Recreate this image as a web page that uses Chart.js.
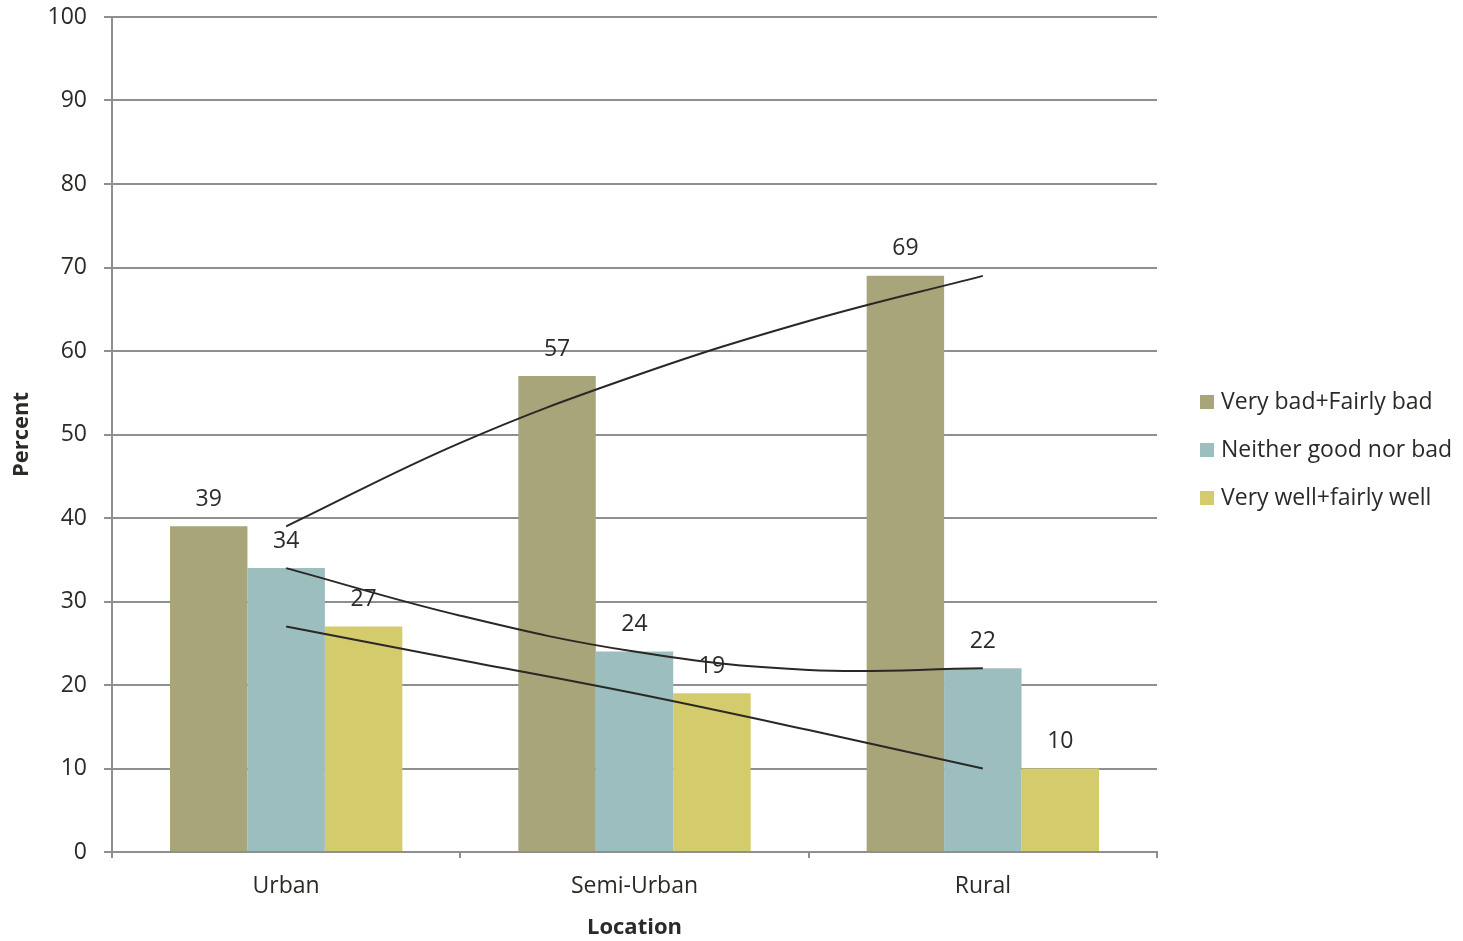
<!DOCTYPE html>
<html>
<head>
<meta charset="utf-8">
<script src="https://cdn.jsdelivr.net/npm/chart.js@4.4.0/dist/chart.umd.min.js"></script>
<style>
  html, body { margin: 0; padding: 0; background: #fff; }
  #wrap { width: 1463px; height: 941px; }
</style>
</head>
<body>
<div id="wrap"><canvas id="chart" width="1463" height="941"></canvas></div>
<script>
// locations and survey shares (%)
const locations = ['Urban', 'Semi-Urban', 'Rural'];
const seriesNames = ['Very bad+Fairly bad', 'Neither good nor bad', 'Very well+fairly well'];
const badValues = [39, 57, 69];
const neitherValues = [34, 24, 22];
const wellValues = [27, 19, 10];
// polynomial trend lines, read at half-category steps (0 = Urban, 2 = Rural)
const trendX = [0, 0.5, 1, 1.5, 2];
const trendBad = [39, 49, 57, 63.6, 69];
const trendNeither = [34, 28.3, 24, 21.8, 22];
const trendWell = [27, 23, 19, 14.6, 10];
const yTicks = [0, 10, 20, 30, 40, 50, 60, 70, 80, 90, 100];

const colors = ['#A8A57B', '#9DBEBE', '#D3CB6C'];
const textColor = '#2b2a26';
const gridColor = '#8f8f8f';
const fontFamily = "'Open Sans', sans-serif";
const fontSize = 23;
const titleSize = 22;

function barSet(label, data, color) {
    return {
        type: 'bar', label, data,
        backgroundColor: color,
        borderWidth: 0,
        categoryPercentage: 0.667,
        barPercentage: 1,
        order: 2
    };
}

// trend points sit between categories, so they go in already parsed
function trendSet(values) {
    return {
        type: 'line', label: '',
        data: trendX.map((x, i) => ({ x, y: values[i] })),
        parsing: false,
        borderColor: '#2a2824',
        borderWidth: 2,
        pointRadius: 0,
        tension: 0.4,
        fill: false,
        order: 1
    };
}

// value labels above the bars, drawn before the trend lines go on top
const barLabels = {
    id: 'barLabels',
    afterDatasetDraw(chart, args) {
        const ds = chart.data.datasets[args.index];
        if (ds.type !== 'bar') return;
        const ctx = chart.ctx;
        ctx.save();
        ctx.font = `${fontSize}px ${fontFamily}`;
        ctx.fillStyle = textColor;
        ctx.textAlign = 'center';
        ctx.textBaseline = 'middle';
        args.meta.data.forEach((bar, i) => {
            ctx.fillText(String(ds.data[i]), bar.x, bar.y - 27);
        });
        ctx.restore();
    }
};

// legend on the right
const sideLegend = {
    id: 'sideLegend',
    afterDraw(chart) {
        const ctx = chart.ctx;
        ctx.save();
        ctx.font = `${fontSize}px ${fontFamily}`;
        ctx.textBaseline = 'middle';
        ctx.textAlign = 'left';
        seriesNames.forEach((name, i) => {
            const y = 402 + i * 48;
            ctx.fillStyle = colors[i];
            ctx.fillRect(1200, y - 7, 14, 14);
            ctx.fillStyle = textColor;
            ctx.fillText(name, 1221, y);
        });
        ctx.restore();
    }
};

new Chart(document.getElementById('chart'), {
    data: {
        labels: locations,
        datasets: [
            barSet(seriesNames[0], badValues, colors[0]),
            barSet(seriesNames[1], neitherValues, colors[1]),
            barSet(seriesNames[2], wellValues, colors[2]),
            trendSet(trendBad),
            trendSet(trendNeither),
            trendSet(trendWell)
        ]
    },
    options: {
        responsive: false,
        animation: false,
        layout: { padding: { top: 17, right: 306, bottom: 0, left: 0 } },
        plugins: {
            legend: { display: false },
            tooltip: { enabled: false }
        },
        scales: {
            x: {
                offset: true,
                afterFit(scale) { scale.height = 89; },
                grid: {
                    offset: true,
                    drawOnChartArea: false,
                    drawTicks: true,
                    tickLength: 6,
                    color: gridColor,
                    lineWidth: 2
                },
                border: { display: true, color: gridColor, width: 2 },
                ticks: {
                    color: textColor,
                    padding: 15,
                    font: { family: fontFamily, size: fontSize }
                },
                title: {
                    display: true,
                    text: 'Location',
                    color: textColor,
                    padding: { top: 4, bottom: 0 },
                    font: { family: fontFamily, size: titleSize, weight: 'bold' }
                }
            },
            y: {
                min: 0,
                max: 100,
                afterFit(scale) {
                    scale.width = 112;
                    // keep the top label's overhang from pushing the plot down
                    scale.paddingTop = 13;
                    scale.paddingBottom = 13;
                },
                afterBuildTicks(scale) { scale.ticks = yTicks.map(v => ({ value: v })); },
                grid: {
                    color: gridColor,
                    lineWidth: 2,
                    tickLength: 8
                },
                border: { display: true, color: gridColor, width: 2 },
                ticks: {
                    color: textColor,
                    padding: 17,
                    font: { family: fontFamily, size: fontSize }
                },
                title: {
                    display: true,
                    text: 'Percent',
                    color: textColor,
                    padding: { top: 9, bottom: 0 },
                    font: { family: fontFamily, size: titleSize, weight: 'bold' }
                }
            }
        }
    },
    plugins: [barLabels, sideLegend]
});
</script>
</body>
</html>
